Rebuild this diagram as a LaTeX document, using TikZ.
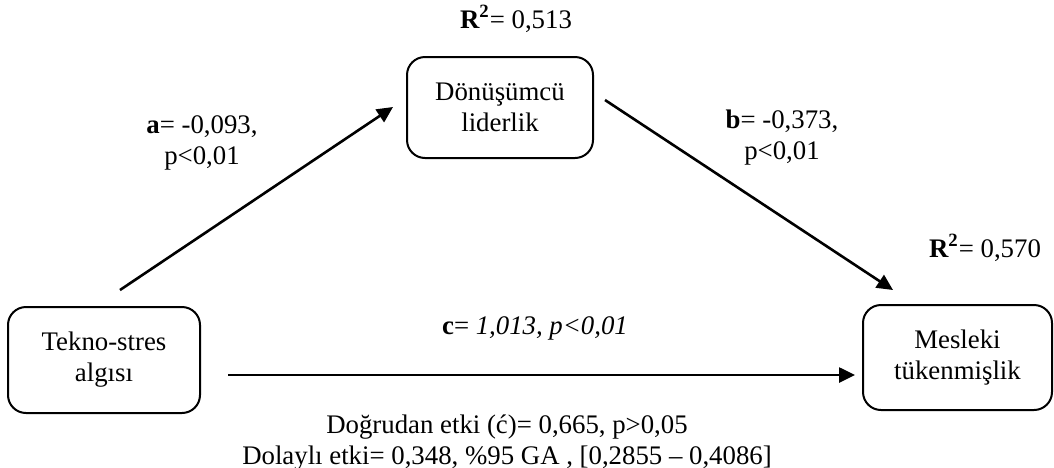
\documentclass[tikz,border=0pt]{standalone}
\usepackage{fontspec}
\setmainfont{Liberation Serif}
\usetikzlibrary{arrows.meta}
\newcommand\myfs{\fontsize{13.4}{15.5}\selectfont}
\begin{document}
\begin{tikzpicture}[x=0.5pt,y=-0.5pt,
  box/.style={draw, line width=1pt, rounded corners=9pt, align=center, font=\myfs, inner sep=0pt},
  arr/.style={line width=1.3pt, -{Triangle[length=8pt,width=7.5pt]}},
  lbl/.style={font=\myfs, align=center, inner sep=0pt, anchor=base}]
\useasboundingbox (0,0) rectangle (1054,467);
\node[box, minimum width=93pt, minimum height=50.5pt] (mid) at (500,107.5) {Dönüşümcü\\liderlik};
\node[box, minimum width=96pt, minimum height=53pt] (left) at (104,360) {Tekno-stres\\algısı};
\node[box, minimum width=94.5pt, minimum height=52.5pt] (right) at (957.5,357.5) {Mesleki\\tükenmişlik};
\coordinate (a0) at (120,290);
\coordinate (a1) at (393,107);
\coordinate (b0) at (605,100);
\coordinate (b1) at (893,290);
\coordinate (c0) at (228,375);
\coordinate (c1) at (855,375);
\draw[arr] (a0) -- (a1);
\draw[arr] (b0) -- (b1);
\draw[arr] (c0) -- (c1);
\node[lbl] (r1) at (516,28) {\textbf{R\textsuperscript{2}}= 0,513};
\node[lbl] (r2) at (985,257) {\textbf{R\textsuperscript{2}}= 0,570};
\node[lbl] (la) at (202,164) {\textbf{a}= -0,093,\\p<0,01};
\node[lbl] (lb) at (782,159) {\textbf{b}= -0,373,\\p<0,01};
\node[lbl] (lc) at (535,334) {\textbf{c}= \textit{1,013, p<0,01}};
\node[lbl] (eff) at (507,464) {Doğrudan etki (ć)= 0,665, p>0,05\\Dolaylı etki= 0,348, \%95 GA , [0,2855 – 0,4086]};
\end{tikzpicture}
\end{document}
